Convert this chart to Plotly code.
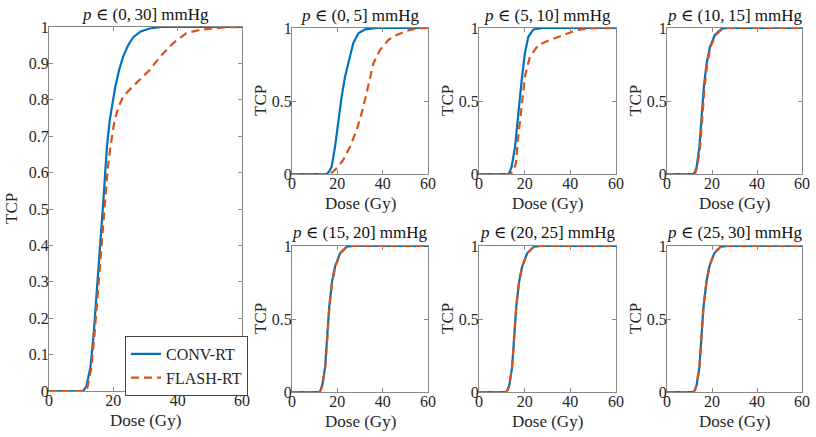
import plotly.graph_objects as go

# ---------------- data ----------------
titles = ["(0,\u200930]", "(0,\u20095]", "(5,\u200910]", "(10,\u200915]", "(15,\u200920]", "(20,\u200925]", "(25,\u200930]"]

conv_all_d = [0, 10.6, 11.6, 12.9, 13.9, 14.7, 15.5, 16.3, 16.8, 17.4, 18.0, 18.9, 19.7, 20.6, 21.8, 23.1, 24.6, 26.2, 28.5, 31.3, 35, 60]
conv_all_y = [0, 0, 0.012, 0.067, 0.158, 0.25, 0.34, 0.433, 0.51, 0.59, 0.67, 0.745, 0.79, 0.836, 0.882, 0.92, 0.95, 0.972, 0.988, 0.996, 1, 1]
flash_all_d = [0, 10.8, 11.9, 13.1, 14.1, 14.9, 15.7, 16.5, 17.0, 17.6, 18.3, 19.1, 20.4, 21.6, 23.0, 25.1, 27.7, 31.3, 34.9, 38.5, 42.7, 46.8, 50.9, 55, 60]
flash_all_y = [0, 0, 0.008, 0.06, 0.15, 0.24, 0.33, 0.42, 0.49, 0.561, 0.616, 0.671, 0.745, 0.78, 0.808, 0.828, 0.85, 0.882, 0.922, 0.955, 0.983, 0.992, 0.996, 0.999, 1]

conv_0_5_d = [0, 15.3, 16.3, 17.5, 19.0, 20.4, 21.9, 23.4, 25.6, 27.0, 29.3, 32.2, 37.4, 60]
conv_0_5_y = [0, 0, 0.015, 0.05, 0.187, 0.37, 0.53, 0.666, 0.80, 0.895, 0.964, 0.991, 1, 1]
flash_0_5_d = [0, 16.0, 17.8, 19.7, 22.6, 25.6, 28.5, 30.7, 32.9, 34.4, 35.9, 38.8, 42.5, 46.2, 50.6, 55, 60]
flash_0_5_y = [0, 0, 0.012, 0.039, 0.096, 0.187, 0.30, 0.415, 0.553, 0.666, 0.758, 0.849, 0.918, 0.952, 0.981, 0.998, 1]

conv_5_10_d = [0, 12.8, 13.5, 14.3, 15.8, 17.2, 18.7, 20.1, 21.6, 23.8, 28.2, 60]
conv_5_10_y = [0, 0, 0.015, 0.05, 0.187, 0.415, 0.644, 0.826, 0.94, 0.99, 1, 1]
flash_5_10_d = [0, 13.6, 14.8, 16.2, 17.2, 18.7, 20.1, 22.3, 26.0, 31.1, 36.9, 42.8, 48.6, 60]
flash_5_10_y = [0, 0, 0.015, 0.073, 0.255, 0.484, 0.666, 0.803, 0.884, 0.918, 0.952, 0.986, 0.998, 1]

conv_10_15_d = [0, 11.7, 12.4, 13.2, 14.4, 15.4, 16.4, 17.6, 19.1, 21.3, 24.3, 27, 60]
conv_10_15_y = [0, 0, 0.012, 0.05, 0.187, 0.415, 0.598, 0.758, 0.872, 0.952, 0.995, 1, 1]
flash_10_15_d = [0, 12.0, 12.7, 13.5, 14.7, 15.7, 16.7, 17.9, 19.4, 21.6, 24.6, 27.5, 60]
flash_10_15_y = [0, 0, 0.012, 0.05, 0.187, 0.415, 0.598, 0.758, 0.872, 0.952, 0.995, 1, 1]

conv_15_20_d = [0, 11.9, 12.6, 13.4, 14.6, 15.6, 16.4, 17.6, 19.0, 21.2, 24.1, 27, 60]
conv_15_20_y = [0, 0, 0.012, 0.05, 0.17, 0.40, 0.58, 0.75, 0.86, 0.95, 0.995, 1, 1]
flash_15_20_d = [0, 12.0, 12.7, 13.5, 14.7, 15.7, 16.5, 17.7, 19.1, 21.3, 24.2, 27, 60]
flash_15_20_y = [0, 0, 0.012, 0.05, 0.17, 0.40, 0.58, 0.75, 0.86, 0.95, 0.995, 1, 1]

conv_20_25_d = [0, 11.8, 12.5, 13.3, 14.5, 15.5, 16.3, 17.5, 18.9, 21.1, 24.0, 27, 60]
conv_20_25_y = [0, 0, 0.012, 0.05, 0.17, 0.40, 0.58, 0.75, 0.86, 0.95, 0.995, 1, 1]
flash_20_25_d = [0, 11.8, 12.5, 13.3, 14.5, 15.5, 16.3, 17.5, 18.9, 21.1, 24.0, 27, 60]
flash_20_25_y = [0, 0, 0.012, 0.05, 0.17, 0.40, 0.58, 0.75, 0.86, 0.95, 0.995, 1, 1]

conv_25_30_d = [0, 11.7, 12.4, 13.2, 14.4, 15.4, 16.2, 17.5, 18.8, 21.0, 23.8, 27, 60]
conv_25_30_y = [0, 0, 0.012, 0.05, 0.17, 0.40, 0.58, 0.75, 0.86, 0.95, 0.995, 1, 1]
flash_25_30_d = [0, 11.7, 12.4, 13.2, 14.4, 15.4, 16.2, 17.5, 18.8, 21.0, 23.8, 27, 60]
flash_25_30_y = [0, 0, 0.012, 0.05, 0.17, 0.40, 0.58, 0.75, 0.86, 0.95, 0.995, 1, 1]

big_yticks = [0, 0.1, 0.2, 0.3, 0.4, 0.5, 0.6, 0.7, 0.8, 0.9, 1]
small_yticks = [0, 0.5, 1]
xticks = [0, 20, 40, 60]
x_title = "Dose (Gy)"
y_title = "TCP"

series = [
    (conv_all_d, conv_all_y, flash_all_d, flash_all_y),
    (conv_0_5_d, conv_0_5_y, flash_0_5_d, flash_0_5_y),
    (conv_5_10_d, conv_5_10_y, flash_5_10_d, flash_5_10_y),
    (conv_10_15_d, conv_10_15_y, flash_10_15_d, flash_10_15_y),
    (conv_15_20_d, conv_15_20_y, flash_15_20_d, flash_15_20_y),
    (conv_20_25_d, conv_20_25_y, flash_20_25_d, flash_20_25_y),
    (conv_25_30_d, conv_25_30_y, flash_25_30_d, flash_25_30_y),
]

# ---------------- layout geometry (pixels) ----------------
W, H = 816, 437
boxes = [
    (49, 242, 27, 391),
    (292, 428, 28, 174),
    (479, 616, 28, 174),
    (667, 802, 28, 174),
    (292, 428, 246, 392),
    (479, 616, 246, 392),
    (667, 802, 246, 392),
]

BLUE = "#0072BD"
ORANGE = "#D95319"
FONT = "'Liberation Serif', 'DejaVu Serif', serif"
AX = "#8a8a8a"
TXT = "#262626"

fig = go.Figure()
annotations = []
layout = dict(
    template="none",
    width=W, height=H,
    margin=dict(l=0, r=0, t=0, b=0, autoexpand=False),
    paper_bgcolor="white", plot_bgcolor="white",
    font=dict(family=FONT, size=16, color=TXT),
    showlegend=True,
    legend=dict(x=125 / W, y=1 - 336 / H, xanchor="left", yanchor="top",
                bordercolor="#444444", borderwidth=1, bgcolor="white",
                font=dict(family=FONT, size=16, color=TXT),
                tracegroupgap=0, itemwidth=30),
)

for i, ((cd, cy, fd, fy), (l, r, t, b)) in enumerate(zip(series, boxes)):
    n = "" if i == 0 else str(i + 1)
    xa, ya = "x" + n, "y" + n
    fig.add_trace(go.Scatter(x=cd, y=cy, mode="lines", name="CONV-RT",
                             line=dict(color=BLUE, width=2.2), xaxis=xa, yaxis=ya,
                             showlegend=(i == 0), cliponaxis=True))
    fig.add_trace(go.Scatter(x=fd, y=fy, mode="lines", name="FLASH-RT",
                             line=dict(color=ORANGE, width=2.2, dash="8px,5px"), xaxis=xa, yaxis=ya,
                             showlegend=(i == 0), cliponaxis=True))
    common = dict(showline=True, linecolor=AX, linewidth=1, mirror="allticks",
                  ticks="inside", ticklen=4, tickcolor=AX, showgrid=False, zeroline=False,
                  automargin=False,
                  tickfont=dict(family=FONT, size=16, color=TXT))
    layout["xaxis" + n] = dict(domain=[l / W, r / W], anchor=ya, range=[0, 60],
                               tickvals=xticks, ticktext=[str(v) for v in xticks],
                               ticklabelstandoff=-5, **common)
    yt = big_yticks if i == 0 else small_yticks
    layout["yaxis" + n] = dict(domain=[1 - b / H, 1 - t / H], anchor=xa, range=[0, 1],
                               tickvals=yt, ticktext=[("%g" % v) for v in yt],
                               ticklabelstandoff=-4, **common)
    # panel title
    annotations.append(dict(
        text="<i>p</i> ∈ " + titles[i] + " mmHg", x=(l + r) / 2 / W, y=1 - (t - 13) / H,
        xref="paper", yref="paper", xanchor="center", yanchor="middle", showarrow=False,
        font=dict(family=FONT, size=17, color="#111111")))
    # x-axis title
    annotations.append(dict(
        text=x_title, x=(l + r) / 2 / W, y=1 - (b + 19) / H,
        xref="paper", yref="paper", xanchor="center", yanchor="top", showarrow=False,
        borderpad=0, font=dict(family=FONT, size=17, color=TXT)))
    # y-axis title
    off = 38 if i == 0 else 32
    annotations.append(dict(
        text=y_title, x=(l - off) / W, y=1 - (t + b) / 2 / H, textangle=-90,
        xref="paper", yref="paper", xanchor="center", yanchor="middle", showarrow=False,
        borderpad=0, font=dict(family=FONT, size=17, color=TXT)))

layout["annotations"] = annotations
fig.update_layout(**layout)
fig.write_html("out.html")
